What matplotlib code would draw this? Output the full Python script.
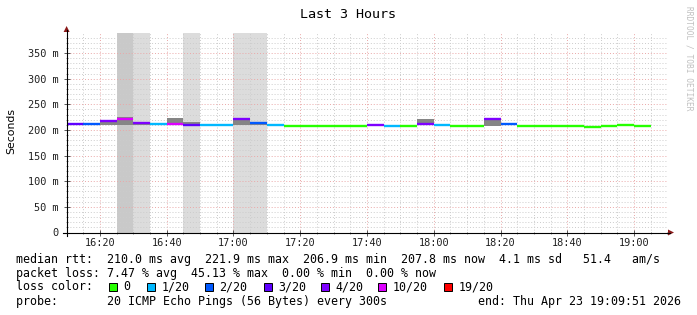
import matplotlib
matplotlib.use("Agg")
import matplotlib.pyplot as plt
from matplotlib.ticker import MultipleLocator
from matplotlib.patches import Rectangle, Polygon
from matplotlib.lines import Line2D

plt.rcParams['font.family'] = ['DejaVu Sans Mono']

# 5 minute steps, start time of each step
seg_start = ["16:10", "16:15", "16:20", "16:25", "16:30", "16:35", "16:40", "16:45",
             "16:50", "16:55", "17:00", "17:05", "17:10", "17:15", "17:20", "17:25",
             "17:30", "17:35", "17:40", "17:45", "17:50", "17:55", "18:00", "18:05",
             "18:10", "18:15", "18:20", "18:25", "18:30", "18:35", "18:40", "18:45",
             "18:50", "18:55", "19:00"]
# median rtt in ms
median = [212, 211.5, 216.5, 221, 214, 211, 212, 208.7,
          208.7, 210, 222, 213, 210.5, 208, 208, 208,
          208, 208, 210.5, 208, 208, 211.5, 209.6, 208,
          208, 221, 211.5, 208, 208, 208, 208, 205.5,
          208, 210.5, 208]
# lost pings out of 20
loss = [3, 2, 4, 10, 4, 1, 10, 3,
        1, 1, 4, 2, 1, 0, 0, 0,
        0, 0, 4, 1, 0, 4, 1, 0,
        0, 4, 2, 0, 0, 0, 0, 0,
        0, 0, 0]
# smoke (spread of the pings) in ms
smoke_lo = [212, 211.5, 210, 209, 210, 211, 210, 208,
            208.7, 209, 210, 210, 208, 207, 207, 207,
            208, 208, 210.5, 208, 208, 210, 209.6, 208,
            208, 208, 210, 208, 208, 208, 208, 205.5,
            208, 210.5, 208]
smoke_hi = [212, 211.5, 216.5, 224.5, 214, 211, 222.5, 216,
            208.7, 212, 224, 215, 212, 210.5, 210.5, 210,
            208, 208, 210.5, 208, 208, 220.5, 209.6, 208,
            208, 222, 214, 208, 208, 208, 208, 205.5,
            208, 210.5, 208]

# grey background bands
band_start = ["16:25", "16:30", "16:45", "17:00"]
band_end = ["16:30", "16:35", "16:50", "17:10"]
band_level = [2, 1, 1, 1]

loss_steps = [0, 1, 2, 3, 4, 10, 19]
loss_labels = ["0", "1/20", "2/20", "3/20", "4/20", "10/20", "19/20"]
loss_colors = ["#26ff00", "#00b8ff", "#0059ff", "#5e00ff", "#7e00ff", "#dd00ff", "#ff0000"]

xtick_labels = ["16:20", "16:40", "17:00", "17:20", "17:40", "18:00", "18:20", "18:40", "19:00"]
ytick_vals = [0, 50, 100, 150, 200, 250, 300, 350]
ytick_labels = ["0", "50 m", "100 m", "150 m", "200 m", "250 m", "300 m", "350 m"]


def to_min(s):
    h, m = s.split(":")
    return int(h) * 60 + int(m) - 16 * 60


def loss_color(n):
    c = loss_colors[0]
    for step, col in zip(loss_steps, loss_colors):
        if n >= step:
            c = col
    return c


W, H = 697, 315


def fx(px):
    return px / W


def fy(py):
    return 1 - py / H


fig = plt.figure(figsize=(W / 100, H / 100), dpi=100)
ax = fig.add_axes([fx(66.6), fy(232.5), (667.4 - 66.6) / W, (232.5 - 32.7) / H])

t = [to_min(s) for s in seg_start]

band_colors = {1: "#dcdcdc", 2: "#c9c9c9"}
for s, e, l in zip(band_start, band_end, band_level):
    ax.axvspan(to_min(s), to_min(e), color=band_colors[l], lw=0, zorder=0)

heights = [h - l for h, l in zip(smoke_hi, smoke_lo)]
ax.bar(t, heights, bottom=smoke_lo, width=5, align="edge", color="#858585", lw=0, zorder=3)
ax.hlines(median, t, [x + 5 for x in t], colors=[loss_color(n) for n in loss], lw=1.7, zorder=4)

ax.set_xlim(10, 190)
ax.set_ylim(0, 389.6)
ax.set_xticks([to_min(s) for s in xtick_labels], xtick_labels)
ax.set_yticks(ytick_vals, ytick_labels)
ax.xaxis.set_minor_locator(MultipleLocator(5))
ax.yaxis.set_minor_locator(MultipleLocator(10))
ax.grid(which="minor", color="#cccccc", lw=0.7, ls=(0, (1, 2)))
ax.grid(which="major", color="#eaa8a8", lw=0.7, ls=(0, (1, 2)))
for sp in ax.spines.values():
    sp.set_visible(False)
ax.tick_params(which="major", direction="inout", length=4, width=0.6, color="#404040",
               labelsize=7.4, labelcolor="#202020")
ax.tick_params(which="minor", direction="inout", length=2, width=0.5, color="#606060")
ax.tick_params(axis="y", pad=4)
ax.tick_params(axis="x", pad=2)

# axis lines and arrows
fig.add_artist(Line2D([fx(63), fx(670)], [fy(232.5), fy(232.5)], color="black", lw=0.8))
fig.add_artist(Line2D([fx(66.6), fx(66.6)], [fy(236), fy(30)], color="black", lw=0.8))
arrow_col = "#8b1a1a"
fig.add_artist(Polygon([(fx(63.6), fy(32)), (fx(69.6), fy(32)), (fx(66.6), fy(26))],
                       closed=True, color=arrow_col, lw=0))
fig.add_artist(Polygon([(fx(668), fy(229.5)), (fx(668), fy(235.5)), (fx(674), fy(232.5))],
                       closed=True, color=arrow_col, lw=0))

fig.text(fx(348), fy(14), "Last 3 Hours", ha="center", va="center", fontsize=9.6)
fig.text(fx(11), fy(131), "Seconds", rotation=90, ha="center", va="center",
         fontsize=7.8, family="DejaVu Sans")
fig.text(fx(689), fy(6), "RRDTOOL / TOBI OETIKER", rotation=270, ha="center", va="top",
         fontsize=5.7, color="#c0c0c0")

fs = 8.4
fig.text(fx(16), fy(259),
         "median rtt:  210.0 ms avg  221.9 ms max  206.9 ms min  207.8 ms now  4.1 ms sd   51.4   am/s",
         ha="left", va="center", fontsize=fs)
fig.text(fx(16), fy(273),
         "packet loss: 7.47 % avg  45.13 % max  0.00 % min  0.00 % now",
         ha="left", va="center", fontsize=fs)
fig.text(fx(16), fy(287), "loss color:", ha="left", va="center", fontsize=fs)
box_x = [109, 147, 205, 264, 321, 378, 444]
for bx, lab, col in zip(box_x, loss_labels, loss_colors):
    fig.add_artist(Rectangle((fx(bx), fy(291)), 8 / W, 8 / H, facecolor=col,
                             edgecolor="black", lw=0.7))
    fig.text(fx(bx + 14.5), fy(287), lab, ha="left", va="center", fontsize=fs)
fig.text(fx(16), fy(301), "probe:       20 ICMP Echo Pings (56 Bytes) every 300s",
         ha="left", va="center", fontsize=fs)
fig.text(fx(681), fy(301), "end: Thu Apr 23 19:09:51 2026", ha="right", va="center", fontsize=fs)

fig.savefig("out.png", dpi=100, facecolor="white")
